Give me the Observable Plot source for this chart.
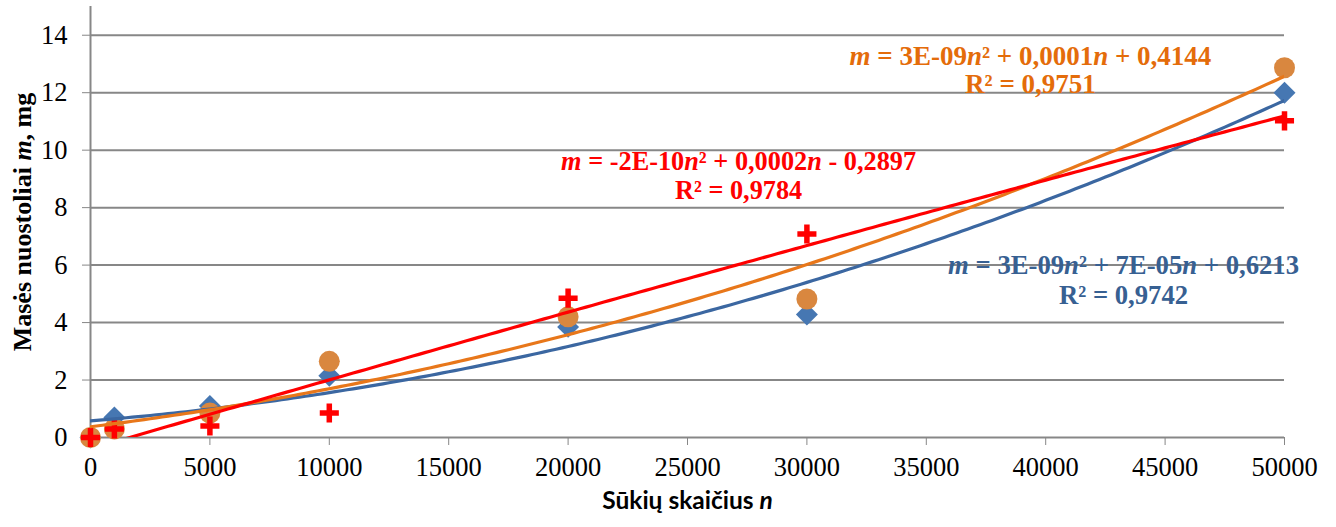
<!DOCTYPE html>
<html><head><meta charset="utf-8">
<script src="https://cdn.jsdelivr.net/npm/d3@7"></script>
<script src="https://cdn.jsdelivr.net/npm/@observablehq/plot@0.6"></script>
<style>body{margin:0;background:#fff}#chart svg{display:block}</style>
</head><body><div id="chart"></div>
<script>
// ---- data ----
const cycles = [0, 1000, 5000, 10000, 20000, 30000, 50000];
const seriesBlue = [0, 0.7, 1.1, 2.15, 3.85, 4.28, 12.0];
const seriesOrange = [0, 0.3, 0.85, 2.65, 4.2, 4.82, 12.87];
const seriesRed = [0, 0.3, 0.4, 0.85, 4.85, 7.08, 11.02];
const xTicks = [0, 5000, 10000, 15000, 20000, 25000, 30000, 35000, 40000, 45000, 50000];
const yTicks = [0, 2, 4, 6, 8, 10, 12, 14];
const eqOrange = ["{m} = 3E-09{n}² + 0,0001{n} + 0,4144", "R² = 0,9751"];
const eqRed = ["{m} = -2E-10{n}² + 0,0002{n} - 0,2897", "R² = 0,9784"];
const eqBlue = ["{m} = 3E-09{n}² + 7E-05{n} + 0,6213", "R² = 0,9742"];
const xTitle = "Sūkių skaičius {n}";
const yTitle = "Masės nuostoliai {m}, mg";

// ---- helpers ----
function toRows(ys) { return cycles.map((n, i) => ({n, m: ys[i]})); }
// order-2 polynomial least-squares fit (Excel-style trendline)
function quadFit(xs, ys) {
  const s = 1e4;
  const S = [0,0,0,0,0], T = [0,0,0];
  xs.forEach((x, i) => { const u = x / s;
    for (let k = 0; k < 5; k++) S[k] += u ** k;
    for (let k = 0; k < 3; k++) T[k] += ys[i] * u ** k; });
  const A = [[S[0],S[1],S[2],T[0]],[S[1],S[2],S[3],T[1]],[S[2],S[3],S[4],T[2]]];
  for (let c = 0; c < 3; c++) {
    let p = c; for (let r = c+1; r < 3; r++) if (Math.abs(A[r][c]) > Math.abs(A[p][c])) p = r;
    [A[c], A[p]] = [A[p], A[c]];
    for (let r = 0; r < 3; r++) if (r !== c) { const f = A[r][c] / A[c][c];
      for (let k = c; k < 4; k++) A[r][k] -= f * A[c][k]; }
  }
  const c0 = A[0][3]/A[0][0], c1 = A[1][3]/A[1][1], c2 = A[2][3]/A[2][2];
  return n => { const u = n / s; return c0 + c1*u + c2*u*u; };
}
function trend(ys) {
  const f = quadFit(cycles, ys);
  return d3.range(0, 50001, 250).map(n => ({n, m: f(n)}));
}

const blue = "#4677b2", blueLine = "#3b67a1", blueText = "#376092";
const orange = "#d9873f", orangeLine = "#e8771a", orangeText = "#e46c0a";
const red = "#ff0000";
const eqFont = {fontFamily: "Liberation Serif", fontWeight: "bold", fontSize: 26.5, textAnchor: "middle"};

function eqMarks(lines, pos, color, size) {
  return lines.map((t, i) => Plot.text([t], {x: pos[i][0], y: pos[i][1], text: d => d, fill: color, ...eqFont, fontSize: size}));
}

const chart = Plot.plot({
  width: 1336, height: 527,
  marginLeft: 90, marginRight: 52, marginTop: 6, marginBottom: 90,
  style: {fontFamily: "Liberation Serif", fontSize: "26.5px", color: "#878787", background: "white"},
  x: {domain: [0, 50000], ticks: xTicks, tickFormat: d => String(d), tickSize: 8, tickPadding: 12, label: null},
  y: {domain: [0, 15], ticks: yTicks, tickFormat: d => String(d), tickSize: 8, tickPadding: 15, label: null},
  marks: [
    Plot.ruleY(yTicks.filter(d => d > 0), {stroke: "#878787", strokeWidth: 2}),
    Plot.ruleY([0], {stroke: "#878787", strokeWidth: 2}),
    Plot.ruleX([0], {stroke: "#878787", strokeWidth: 2}),
    Plot.dot(toRows(seriesBlue), {x: "n", y: "m", symbol: "diamond2", fill: blue, r: 9.9}),
    Plot.dot(toRows(seriesOrange), {x: "n", y: "m", symbol: "circle", fill: orange, r: 10.5}),
    Plot.dot(toRows(seriesRed), {x: "n", y: "m", symbol: "plus", stroke: red, strokeWidth: 5.5, r: 6.2}),
    Plot.line(trend(seriesBlue), {x: "n", y: "m", stroke: blueLine, strokeWidth: 3.2, clip: true}),
    Plot.line(trend(seriesOrange), {x: "n", y: "m", stroke: orangeLine, strokeWidth: 3.2, clip: true}),
    Plot.line(trend(seriesRed), {x: "n", y: "m", stroke: red, strokeWidth: 3.2, clip: true}),
    ...eqMarks(eqOrange, [[39360, 13.28], [39360, 12.28]], orangeText, 27),
    ...eqMarks(eqRed, [[27140, 9.6], [27140, 8.6]], red, 26.3),
    ...eqMarks(eqBlue, [[43260, 6.0], [43260, 4.95]], blueText, 26.7),
    Plot.text([xTitle], {frameAnchor: "bottom", dy: 71, text: d => d, fill: "black",
      fontFamily: "Lato", fontWeight: "bold", fontSize: 24.5}),
    Plot.text([yTitle], {frameAnchor: "left", dx: -68, rotate: -90, text: d => d, fill: "black", textAnchor: "middle",
      fontFamily: "Liberation Serif", fontWeight: "bold", fontSize: 26})
  ]
});

// axis labels black and sized like the reference
chart.querySelectorAll('g[aria-label*="axis"] text').forEach(t => {
  t.setAttribute("fill", "black"); t.style.fill = "black";
  t.setAttribute("font-size", "26.5"); t.style.fontSize = "26.5px";
});
// italic variables written as {x}
chart.querySelectorAll("text").forEach(el => {
  if (el.children.length || !el.textContent.includes("{")) return;
  const parts = el.textContent.split(/\{(.*?)\}/);
  el.textContent = "";
  parts.forEach((p, i) => {
    if (!p) return;
    const ts = document.createElementNS("http://www.w3.org/2000/svg", "tspan");
    ts.textContent = p;
    if (i % 2 === 1) ts.setAttribute("font-style", "italic");
    el.appendChild(ts);
  });
});
document.getElementById("chart").appendChild(chart);
</script>
</body></html>
